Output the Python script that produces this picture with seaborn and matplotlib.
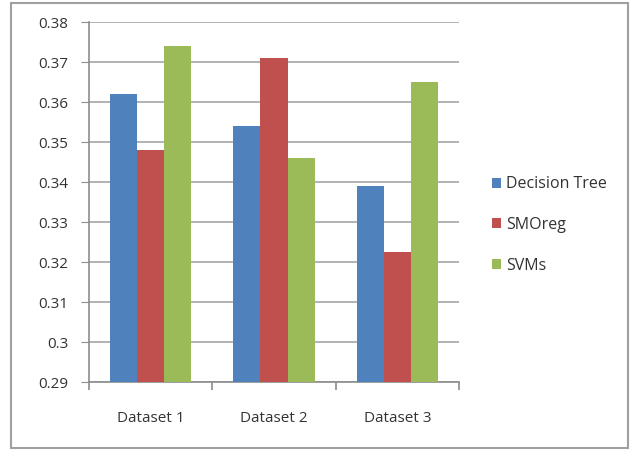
import pandas as pd
import matplotlib.pyplot as plt
import seaborn as sns
from matplotlib.patches import Rectangle
from matplotlib.ticker import FixedLocator

datasets = ["Dataset 1", "Dataset 2", "Dataset 3"]
methods = ["Decision Tree", "SMOreg", "SVMs"]
decision_tree = [0.362, 0.354, 0.339]
smoreg = [0.348, 0.371, 0.3225]
svms = [0.374, 0.346, 0.365]
colors = ["#4F81BD", "#C0504D", "#9BBB59"]

rows = []
for name, vals in zip(methods, [decision_tree, smoreg, svms]):
    for ds, v in zip(datasets, vals):
        rows.append({"Dataset": ds, "Method": name, "Value": v})
df = pd.DataFrame(rows)

sns.set_style("white")
plt.rcParams["font.family"] = ["Open Sans", "DejaVu Sans"]

fig = plt.figure(figsize=(6.31, 4.5), dpi=100)
ax = fig.add_axes([89 / 631, 1 - 382 / 450, 370 / 631, 360 / 450])

sns.barplot(data=df, x="Dataset", y="Value", hue="Method", palette=colors,
            width=0.66, gap=0, saturation=1, linewidth=0, ax=ax, zorder=3)

ax.set_ylim(0.29, 0.38)
ax.set_xlim(-0.5, 2.5)
ax.set_yticks([0.29 + 0.01 * i for i in range(10)])
ax.set_yticklabels(["0.29", "0.3", "0.31", "0.32", "0.33", "0.34",
                    "0.35", "0.36", "0.37", "0.38"])
ax.yaxis.grid(True, color="#a6a6a6", linewidth=1.2, zorder=0)
ax.set_axisbelow(True)
ax.set_xlabel("")
ax.set_ylabel("")

for s in ["top", "right"]:
    ax.spines[s].set_visible(False)
for s in ["left", "bottom"]:
    ax.spines[s].set_color("#8c8c8c")
    ax.spines[s].set_linewidth(1.2)

ax.tick_params(axis="y", which="major", direction="out", length=6, color="#8c8c8c",
               labelsize=11, labelcolor="#333333", pad=9, left=True)
ax.tick_params(axis="x", which="major", length=0, labelsize=11, labelcolor="#333333", pad=21)
ax.xaxis.set_minor_locator(FixedLocator([-0.5, 0.5, 1.5, 2.5]))
ax.tick_params(axis="x", which="minor", direction="out", length=6, color="#8c8c8c",
               width=1.2, bottom=True)

handles, labels = ax.get_legend_handles_labels()
ax.legend(handles, labels, loc="center left", bbox_to_anchor=(1.05, 0.436),
          frameon=False, fontsize=11.5, handlelength=0.6, handleheight=0.6,
          handletextpad=0.3, labelspacing=1.55, labelcolor="#333333")

fig.patches.append(Rectangle((11 / 631, 2 / 450), 617 / 631, 445 / 450,
                             transform=fig.transFigure, fill=False,
                             edgecolor="#a0a0a0", linewidth=1.5))

fig.savefig("out.png", dpi=100)
